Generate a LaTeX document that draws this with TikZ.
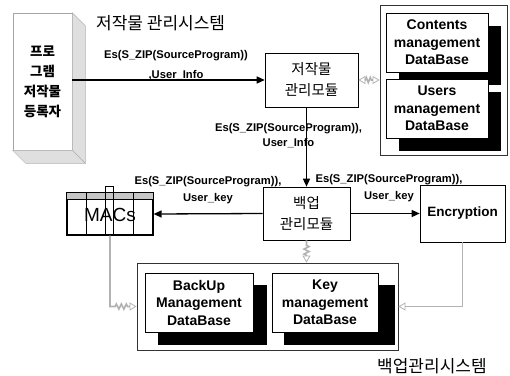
\documentclass[tikz,border=0pt]{standalone}
\usepackage{fontspec}
\setmainfont{Liberation Sans}
\newfontfamily\kr{Noto Sans CJK KR}
\usetikzlibrary{arrows.meta,decorations.pathmorphing}
\begin{document}
\begin{tikzpicture}[x=1pt,y=-1pt,
 box/.style={draw=black, line width=0.6pt, fill=white, inner sep=0pt, align=center},
 panel/.style={draw=black!80, line width=0.8pt, fill=white, inner sep=0pt},
 dbtext/.style={font=\bfseries\fontsize{14}{17.5}\selectfont},
 krtext/.style={font=\kr\fontsize{14.5}{21}\selectfont},
 lbl/.style={font=\bfseries\fontsize{11.2}{15}\selectfont, align=center, inner sep=0pt},
 flow/.style={draw=black, line width=1.3pt, -{Triangle[length=8pt,width=7pt]}},
 gtip/.style={},
 link/.style={draw=gray!60, line width=1.6pt, -{Triangle[open,length=7pt,width=8pt,line width=0.8pt]}},
 zz/.style={decorate, decoration={zigzag, amplitude=2.5pt, segment length=5pt, pre length=#1, post length=7pt}},
 zz/.default=5pt,
 shade/.style={fill=black}
]
\useasboundingbox (0,0) rectangle (510,375);

% left 3D box
\node[box, draw=gray!70, minimum width=59pt, minimum height=137pt,
      font=\kr\bfseries\fontsize{13.5}{20}\selectfont] (reg) at (42.5,81.5) {프로\\그램\\저작물\\등록자};
\fill[gray!25, draw=gray!60, line width=0.5pt] (reg.north east) -- ([shift={(13,13)}]reg.north east)
   -- ([shift={(13,13)}]reg.south east) -- (reg.south east) -- cycle;
\fill[gray!25, draw=gray!60, line width=0.5pt] (reg.south west) -- ([shift={(13,13)}]reg.south west)
   -- ([shift={(13,13)}]reg.south east) -- (reg.south east) -- cycle;

% titles
\node[font=\kr\fontsize{17}{20}\selectfont, anchor=west, inner sep=0pt] (t1) at (96,23) {저작물 관리시스템};
\node[font=\kr\fontsize{17}{20}\selectfont, anchor=west, inner sep=0pt] (t2) at (377,366) {백업관리시스템};

% modules
\node[box, krtext, minimum width=93pt, minimum height=54pt] (cm) at (311.5,80) {저작물\\관리모듈};
\node[box, krtext, minimum width=87pt, minimum height=53pt] (bm) at (306.5,213.5) {백업\\관리모듈};
\node[box, minimum width=85pt, minimum height=57pt, font=\bfseries\fontsize{13.5}{16}\selectfont] (enc) at (462.5,213.5) {Encryption};

% top database panel
\node[panel, minimum width=127pt, minimum height=150pt] (toppanel) at (443.5,80) {};
\fill[shade] (399,26) rectangle (501,85);
\node[box, dbtext, minimum width=102pt, minimum height=59pt] (cdb) at (437,42.5) {Contents\\management\\DataBase};
\fill[shade] (399,92) rectangle (501,151);
\node[box, dbtext, minimum width=102pt, minimum height=59pt] (udb) at (437,108.5) {Users\\management\\DataBase};

% bottom database panel
\node[panel, minimum width=261pt, minimum height=87pt] (botpanel) at (267.5,306.5) {};
\fill[shade] (158,285) rectangle (267,345);
\node[box, dbtext, minimum width=108pt, minimum height=59pt] (bdb) at (199,302.5) {BackUp\\Management\\DataBase};
\fill[shade] (284,285) rectangle (395,345);
\node[box, dbtext, minimum width=106pt, minimum height=59pt] (kdb) at (325,302.5) {Key\\management\\DataBase};

% MACs store
\node[box, line width=1.2pt, minimum width=86pt, minimum height=42pt] (macs) at (110,214) {};
\fill[gray!45, draw=black, line width=0.8pt] (macs.north west) rectangle ([shift={(0,7)}]macs.north east);
\foreach \dx in {20,39,47,67}
  \draw[line width=0.7pt] ([xshift=\dx pt]macs.north west) -- ([xshift=\dx pt]macs.south west);
\draw[line width=0.8pt, fill=white] ([xshift=39pt]macs.north west) rectangle ([shift={(47,-6)}]macs.north west);
\node[font=\fontsize{19}{20}\selectfont, inner sep=0pt] (macst) at (110,215) {MACs};

% flows
\draw[flow] (reg.east |- cm.west) -- (cm.west);
\draw[flow] (bm.north |- cm.south) -- (bm.north);
\draw[flow] (bm.west) -- (macs.east);
\draw[flow] (bm.east) -- (enc.west);

% labels
\node[lbl, font=\bfseries\fontsize{11.2}{20}\selectfont] (l1) at (176,65) {Es(S\_ZIP(SourceProgram))\\,User\_Info};
\node[lbl] (l2) at (288.5,135.5) {Es(S\_ZIP(SourceProgram)),\\User\_Info};
\node[lbl, font=\bfseries\fontsize{11.2}{17}\selectfont] (l3) at (208,190.5) {Es(S\_ZIP(SourceProgram)),\\User\_key};
\node[lbl, font=\bfseries\fontsize{11.2}{17}\selectfont] (l4) at (389,188.5) {Es(S\_ZIP(SourceProgram)),\\User\_key};

% gray links
\draw[link, {Triangle[open,length=7pt,width=8pt,line width=0.8pt]}-{Triangle[open,length=7pt,width=8pt,line width=0.8pt]},
      decorate, decoration={zigzag, amplitude=2.5pt, segment length=4pt, pre length=7pt, post length=7pt}]
      (cm.east) -- (toppanel.west |- cm.east);
\draw[link, zz=5pt] (bm.south) -- (bm.south |- botpanel.north);
\draw[link, zz=76pt] (macs.south) |- (botpanel.west);
\draw[link] (enc.south) |- (botpanel.east);
\end{tikzpicture}
\end{document}
